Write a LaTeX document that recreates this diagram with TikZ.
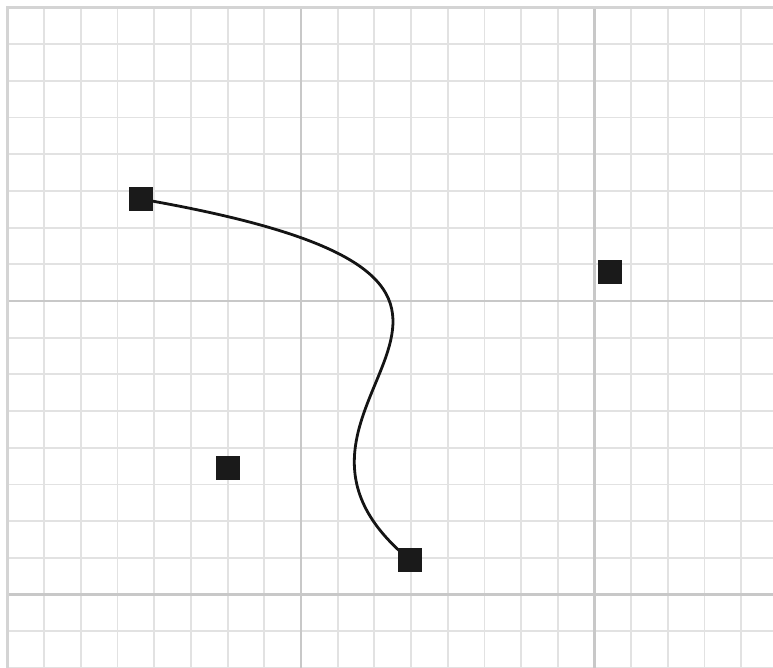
\documentclass[tikz,border=0pt]{standalone}
\begin{document}
\begin{tikzpicture}[x=1pt,y=-1pt,
  minorline/.style={draw={rgb,255:red,226;green,226;blue,226},line width=1.8pt},
  majorline/.style={draw={rgb,255:red,200;green,200;blue,200},line width=2.2pt},
  edgeline/.style={draw={rgb,255:red,212;green,212;blue,212},line width=2.4pt},
  ctrlsq/.style={rectangle,fill={rgb,255:red,26;green,26;blue,26},minimum size=24pt,inner sep=0pt,outer sep=0pt},
  curveline/.style={draw={rgb,255:red,20;green,20;blue,20},line width=2.8pt}]
\useasboundingbox (0,0) rectangle (773,668);
\fill[white] (0,0) rectangle (773,668);
\begin{scope}
\clip (0,0) rectangle (773,668);
\foreach \i in {-8,...,12} {
  \draw[minorline] ({301+36.6875*\i},7.5) -- ({301+36.6875*\i},680);
}
\foreach \j in {-8,...,10} {
  \draw[minorline] (7.5,{301+36.6875*\j}) -- (790,{301+36.6875*\j});
}
\draw[majorline] (301,7.5) -- (301,680);
\draw[majorline] (594.5,7.5) -- (594.5,680);
\draw[majorline] (7.5,301) -- (790,301);
\draw[majorline] (7.5,594.5) -- (790,594.5);
\draw[edgeline] (7.5,6.5) -- (7.5,680);
\draw[edgeline] (6.5,7.5) -- (790,7.5);
\end{scope}
\coordinate (c1) at (635,285);
\coordinate (c2) at (215,400);
\node[ctrlsq] (p0) at (140.5,199) {};
\node[ctrlsq] (q1) at (610,272) {};
\node[ctrlsq] (q2) at (228,468) {};
\node[ctrlsq] (p3) at (410,560) {};
\draw[curveline] (p0.center) .. controls (c1) and (c2) .. (p3.center);
\node[ctrlsq] at (p0) {};
\node[ctrlsq] at (p3) {};
\end{tikzpicture}
\end{document}
